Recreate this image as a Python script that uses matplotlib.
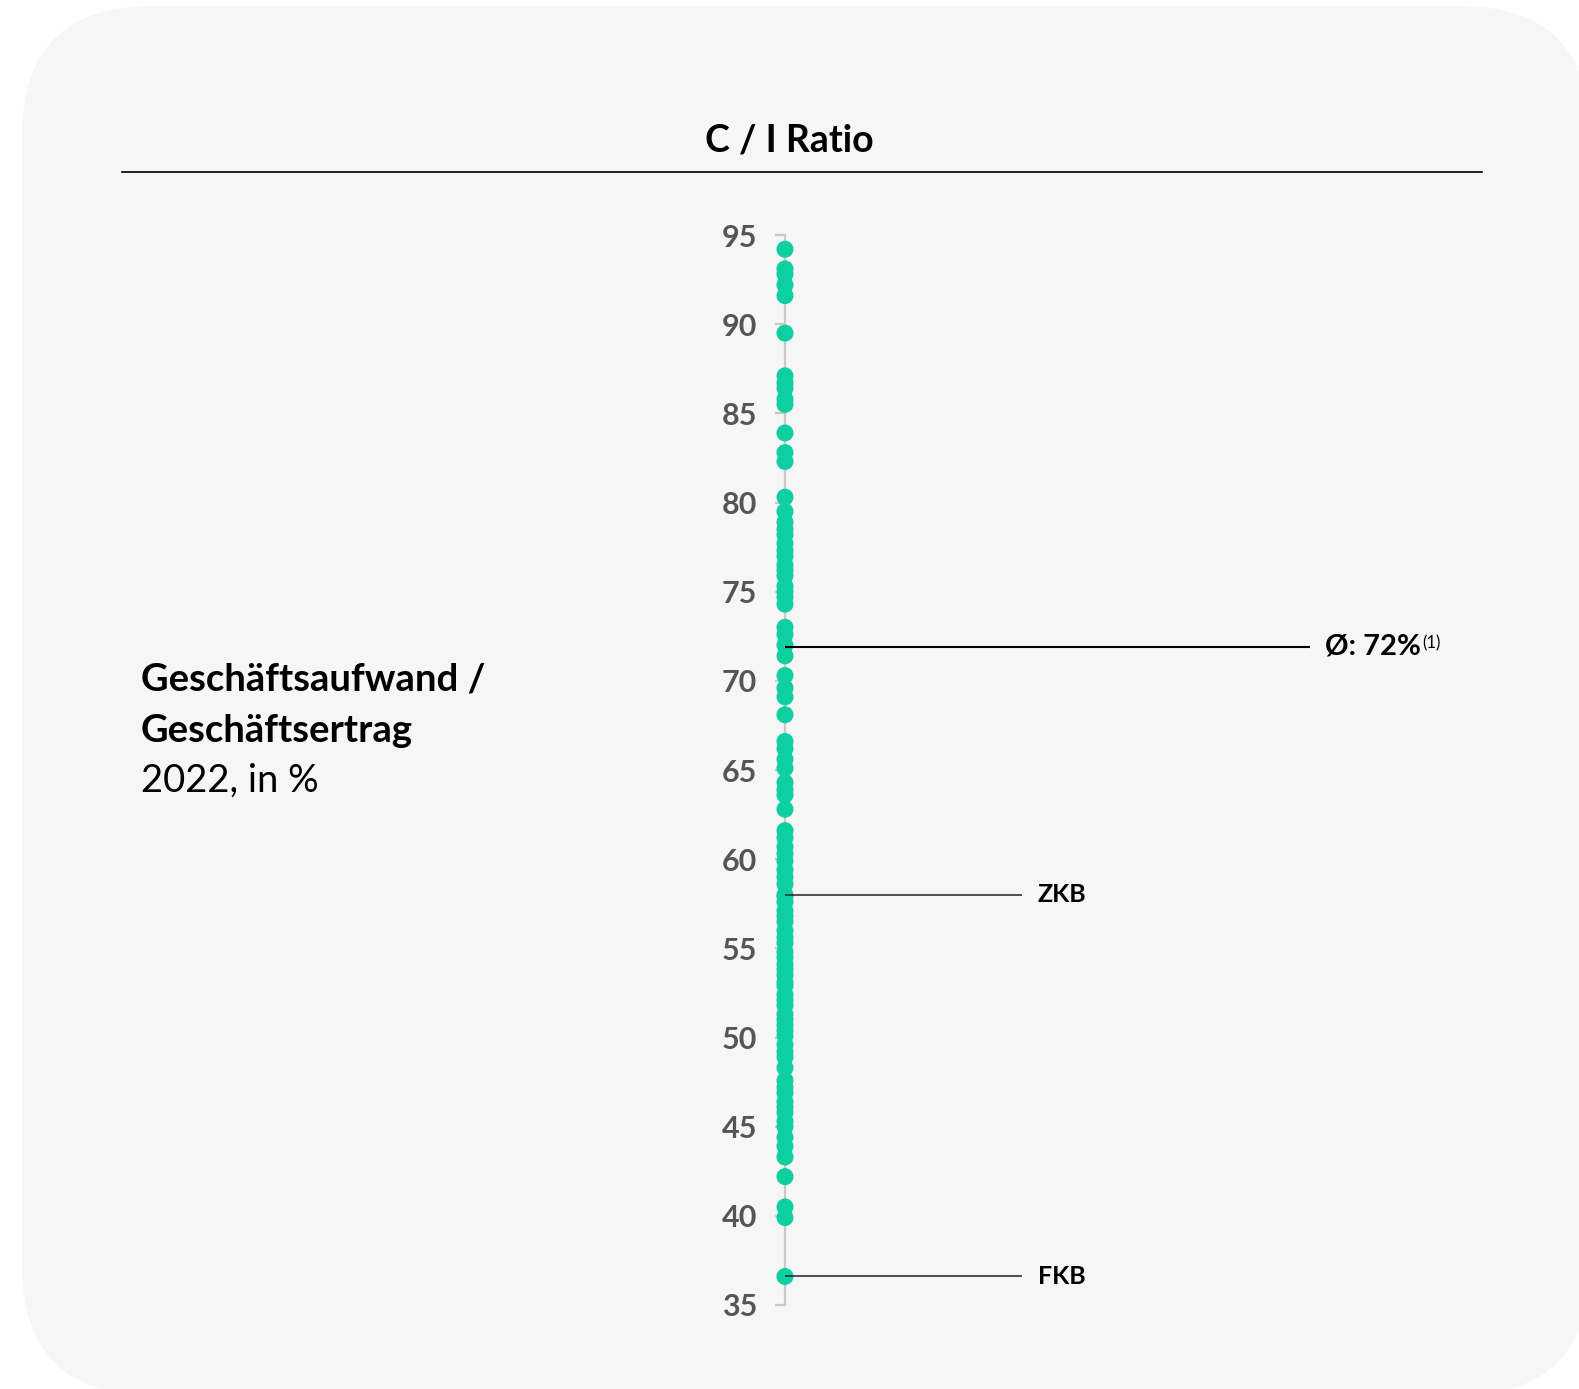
import matplotlib
matplotlib.use("Agg")
import matplotlib.pyplot as plt
from matplotlib.patches import FancyBboxPatch

plt.rcParams['font.family'] = ['Lato', 'DejaVu Sans']

# ---- data ----
ci_ratios = [94.2, 93.1, 92.8, 92.2, 91.6, 89.5, 87.1, 86.7, 86.4, 85.8, 85.5,
             83.9, 82.8, 82.3,
             80.3, 79.5, 78.9, 78.5, 78.2, 77.7, 77.3, 77.0, 76.5, 76.2, 75.9,
             75.3, 75.0, 74.7, 74.3,
             73.0, 72.6, 72.0, 71.4, 70.3, 69.6, 69.1, 68.1, 66.6, 66.2, 65.6,
             65.1, 64.3, 63.9, 63.6, 62.8,
             61.6, 61.2, 60.7, 60.3, 59.9, 59.4, 59.0, 58.6, 58.0, 57.9, 57.6,
             57.1, 56.8, 56.5, 56.0, 55.6, 55.3, 54.8, 54.5, 54.1, 53.8, 53.5,
             53.1, 52.9, 52.4, 52.1, 51.8, 51.3, 51.0, 50.7, 50.4, 50.1, 49.6,
             49.2, 48.9, 48.3, 47.6, 47.2, 46.9, 46.4, 46.1, 45.8, 45.3, 45.0,
             44.4, 43.9, 43.3, 42.2, 40.5, 39.9, 36.6]
mean_value = 71.9
mean_label = "Ø: 72%"
highlight_names = ["ZKB", "FKB"]
highlight_values = [58.0, 36.6]
y_ticks = [35, 40, 45, 50, 55, 60, 65, 70, 75, 80, 85, 90, 95]

title = "C / I Ratio"
left_title = ["Geschäftsaufwand /", "Geschäftsertrag"]
left_sub = "2022, in %"

# ---- figure ----
W, H = 1579, 1389
fig = plt.figure(figsize=(W / 100, H / 100), dpi=100)
fig.patch.set_facecolor("white")

bg = FancyBboxPatch((0.22, -0.06), 15.68, 13.89, boxstyle="round,pad=0,rounding_size=1.3",
                    transform=fig.dpi_scale_trans, facecolor="#f6f6f6", edgecolor="none",
                    zorder=-10)
fig.patches.append(bg)

# axis occupying full width; x in pixels, y in data
y_top_px, y_bot_px = 235, 1305
ax = fig.add_axes([0, 1 - y_bot_px / H, 1, (y_bot_px - y_top_px) / H])
ax.set_zorder(1)
ax.patch.set_visible(False)
ax.set_xlim(0, W)
ax.set_ylim(35, 95)
x0 = 785

for s in ["top", "right", "bottom"]:
    ax.spines[s].set_visible(False)
ax.spines["left"].set_position(("data", x0))
ax.spines["left"].set_color("#c9c9c9")
ax.spines["left"].set_linewidth(1.6)
ax.spines["left"].set_bounds(35, 95)
ax.set_xticks([])
ax.set_yticks(y_ticks)
ax.set_yticklabels([str(t) for t in y_ticks])
ax.tick_params(axis="y", length=7, width=1.6, color="#c9c9c9", pad=13,
               labelsize=22, labelcolor="#555555")
for lab in ax.get_yticklabels():
    lab.set_fontweight("bold")

# dots
ax.scatter([x0] * len(ci_ratios), ci_ratios, s=150, color="#0dcf9f", edgecolors="none",
           zorder=3, clip_on=False)

# mean line
ax.plot([x0, 1310], [mean_value, mean_value], color="black", lw=1.5, zorder=4,
        solid_capstyle="butt")
t = ax.text(1325, mean_value, mean_label, fontsize=21, fontweight="bold", color="black",
            va="center", ha="left")
ax.annotate("(1)", xy=(1, 0.95), xycoords=t, xytext=(1, 0), textcoords="offset points",
            fontsize=12, va="top", ha="left", color="black")

# highlight lines
for name, val in zip(highlight_names, highlight_values):
    ax.plot([x0, 1022], [val, val], color="#222222", lw=1.1, zorder=4,
            solid_capstyle="butt")
    ax.text(1038, val, name, fontsize=18, fontweight="bold", color="black",
            va="center", ha="left")

# title and rule
fig.text((x0 + 4) / W, 1 - 141 / H, title, fontsize=27, fontweight="bold", ha="center",
         va="center", color="black")
fig.add_artist(plt.Line2D([122 / W, 1482 / W], [1 - 172 / H, 1 - 172 / H],
                          color="black", lw=1.2))

# left text
fig.text(141 / W, 1 - 680 / H, left_title[0], fontsize=27.5, fontweight="bold",
         ha="left", va="center", color="black")
fig.text(141 / W, 1 - 731 / H, left_title[1], fontsize=27.5, fontweight="bold",
         ha="left", va="center", color="black")
fig.text(141 / W, 1 - 781 / H, left_sub, fontsize=27.5, ha="left", va="center",
         color="black")

fig.savefig("out.png", dpi=100, facecolor="white")
